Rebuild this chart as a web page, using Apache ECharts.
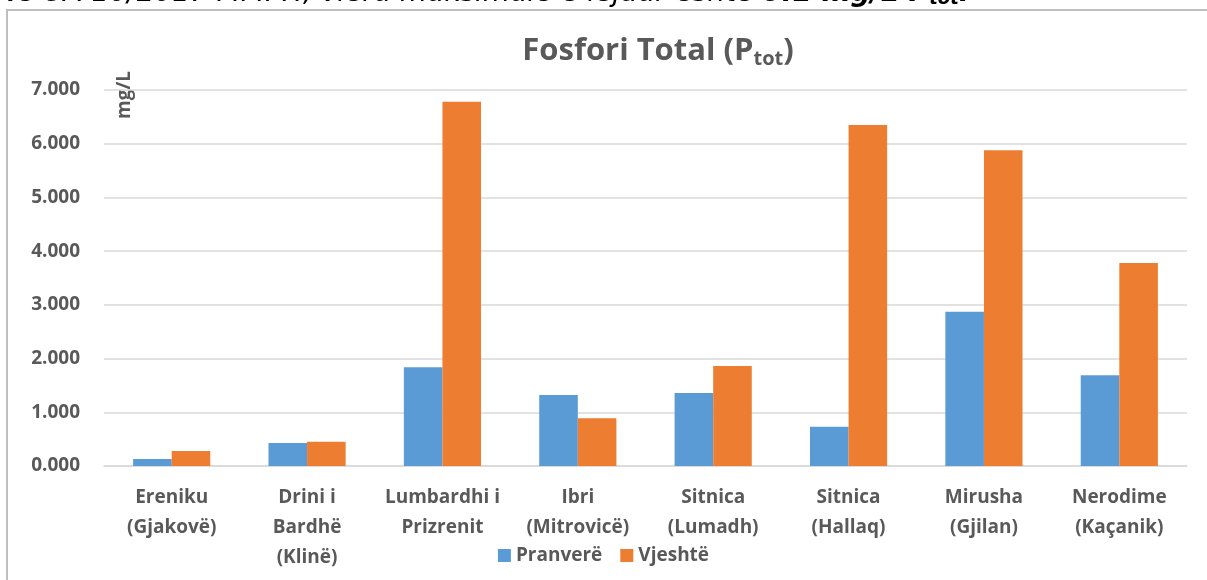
<!DOCTYPE html>
<html>
<head>
<meta charset="utf-8">
<script src="https://cdn.jsdelivr.net/npm/echarts@6/dist/echarts.min.js"></script>
<style>
html,body{margin:0;padding:0;background:#fff;}
#chart{width:1207px;height:580px;}
</style>
</head>
<body>
<div id="chart"></div>
<script>
const categories = ["Ereniku\n(Gjakovë)", "Drini i\nBardhë\n(Klinë)", "Lumbardhi i\nPrizrenit", "Ibri\n(Mitrovicë)", "Sitnica\n(Lumadh)", "Sitnica\n(Hallaq)", "Mirusha\n(Gjilan)", "Nerodime\n(Kaçanik)"];
const seriesNames = ["Pranverë", "Vjeshtë"];
const pranvere = [0.13, 0.43, 1.84, 1.32, 1.36, 0.73, 2.87, 1.69];
const vjeshte = [0.28, 0.45, 6.78, 0.89, 1.86, 6.35, 5.88, 3.78];
const yTicks = [0, 1, 2, 3, 4, 5, 6, 7];

const chart = echarts.init(document.getElementById('chart'));
const txt = '#595959';
const font = '"Open Sans", sans-serif';
chart.setOption({
  animation: false,
  title: {
    text: '{a|Fosfori Total (P}{s|tot}{a|)}',
    left: 653, top: 29, textAlign: 'center',
    textStyle: {
      rich: {
        a: {fontSize: 31, fontWeight: 'bold', color: txt, fontFamily: font},
        s: {fontSize: 20, fontWeight: 'bold', color: txt, fontFamily: font, verticalAlign: 'bottom', padding: [15, 0, 0, 0]}
      }
    }
  },
  legend: {
    bottom: 10, left: 'center',
    itemWidth: 13, itemHeight: 13, itemGap: 18,
    icon: 'rect',
    textStyle: {fontSize: 19, fontWeight: 'bold', color: txt, fontFamily: font},
    data: seriesNames
  },
  grid: {left: 104, right: 20, top: 90, bottom: 114},
  xAxis: {
    type: 'category',
    data: categories,
    axisLine: {lineStyle: {color: '#D9D9D9', width: 1.5}},
    axisTick: {show: false},
    axisLabel: {fontSize: 19, fontWeight: 'bold', color: txt, fontFamily: font, lineHeight: 30, margin: 17, interval: 0}
  },
  yAxis: {
    type: 'value',
    min: 0, max: 7, interval: 1,
    axisLine: {show: false},
    axisTick: {show: false},
    splitLine: {lineStyle: {color: '#D9D9D9', width: 1.5}},
    axisLabel: {fontSize: 19, fontWeight: 'bold', color: txt, fontFamily: font, margin: 24,
      formatter: v => yTicks.includes(v) ? v.toFixed(3) : ''}
  },
  series: [
    {name: seriesNames[0], type: 'bar', data: pranvere, barWidth: '28.5%', barGap: '0%', itemStyle: {color: '#5B9BD5'}},
    {name: seriesNames[1], type: 'bar', data: vjeshte, barWidth: '28.5%', itemStyle: {color: '#ED7D31'}}
  ],
  graphic: [
    {type: 'rect', shape: {x: 7, y: 10, width: 1300, height: 700}, style: {fill: null, stroke: '#BFBFBF', lineWidth: 2}, silent: true},
    {type: 'text', x: -4, y: 11, style: {
      text: '{i|Në UA 10/2017 MMPH, vlera maksimale e lejuar është }{b|0.1 mg/L P}{bs|tot}{b|.}',
      textVerticalAlign: 'bottom',
      rich: {
        i: {fontSize: 28, lineHeight: 34, fontStyle: 'italic', fill: '#000', fontFamily: '"DejaVu Sans", sans-serif'},
        b: {fontSize: 28, lineHeight: 34, fontStyle: 'italic', fontWeight: 'bold', fill: '#000', fontFamily: '"DejaVu Sans", sans-serif'},
        bs: {fontSize: 18, lineHeight: 34, fontStyle: 'italic', fontWeight: 'bold', fill: '#000', fontFamily: '"DejaVu Sans", sans-serif', padding: [10, 0, 0, 0]}
      }
    }},
    {type: 'text', x: 125, y: 95, rotation: Math.PI / 2, style: {
      text: 'mg/L', fontSize: 19, fontWeight: 'bold', fill: txt, fontFamily: font,
      textAlign: 'center', textVerticalAlign: 'middle'
    }}
  ]
});
</script>
</body>
</html>
